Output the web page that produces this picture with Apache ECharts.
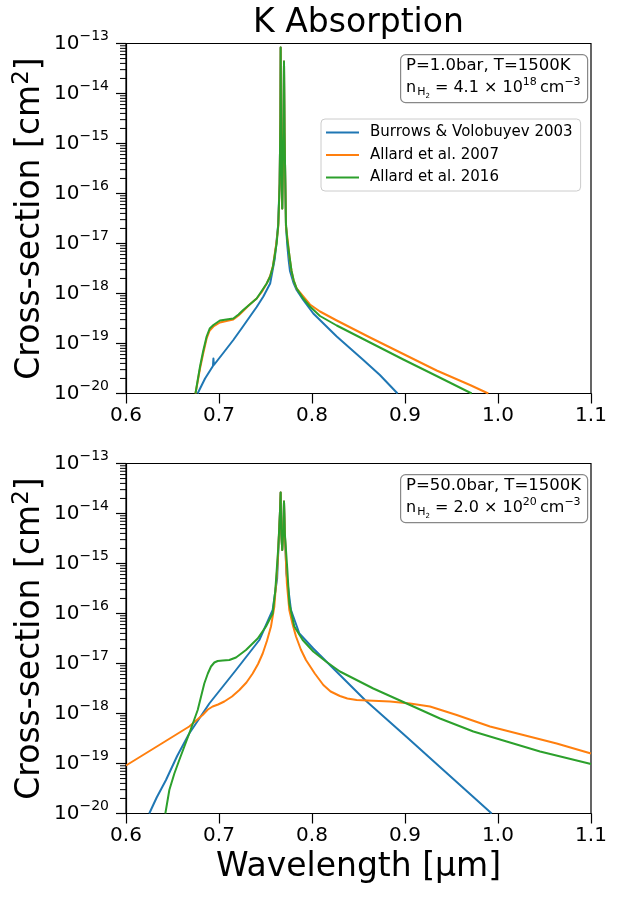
<!DOCTYPE html>
<html>
<head>
<meta charset="utf-8">
<title>K Absorption</title>
<script src="https://cdn.jsdelivr.net/npm/echarts/dist/echarts.min.js"></script>
<style>
    html, body { margin: 0; padding: 0; background: #fff; }
    #main { width: 618px; height: 899px; }
</style>
</head>
<body>
<div id="main"></div>
<script>
// wavelength in micron, cross-section stored as log10(cm^2)

// --- panel 1 : P = 1 bar ---
var topBurrowsWl  = [0.677, 0.681, 0.685, 0.6935, 0.694, 0.6945, 0.705, 0.7154, 0.725, 0.7333, 0.7405, 0.7477, 0.755, 0.760, 0.7635, 0.7652, 0.7660, 0.7663, 0.7668, 0.7680, 0.7692, 0.7699, 0.7705, 0.7720, 0.7735, 0.7750, 0.7763, 0.7800, 0.7835, 0.7906, 0.8014, 0.8266, 0.8552, 0.873, 0.892];
var topBurrowsLog = [-20, -19.85, -19.7, -19.45, -19.3, -19.43, -19.18, -18.93, -18.68, -18.46, -18.27, -18.06, -17.8, -17.3, -16.65, -15.8, -14.5, -13.08, -14.8, -16.3, -14.8, -13.36, -14.8, -16.65, -17.05, -17.35, -17.55, -17.78, -17.93, -18.13, -18.4, -18.86, -19.33, -19.63, -20];

var topAllard07Wl  = [0.6747, 0.6772, 0.6796, 0.683, 0.6867, 0.690, 0.694, 0.701, 0.708, 0.7154, 0.721, 0.726, 0.733, 0.7405, 0.746, 0.7513, 0.755, 0.758, 0.762, 0.7638, 0.7652, 0.7660, 0.7663, 0.7668, 0.7680, 0.7692, 0.7699, 0.7705, 0.7720, 0.7740, 0.776, 0.778, 0.780, 0.7835, 0.7906, 0.7978, 0.8086, 0.8266, 0.8624, 0.8982, 0.934, 0.9699, 0.9896];
var topAllard07Log = [-20, -19.75, -19.5, -19.2, -18.9, -18.74, -18.66, -18.58, -18.55, -18.52, -18.44, -18.35, -18.22, -18.1, -17.97, -17.8, -17.65, -17.45, -16.95, -16.65, -15.8, -14.5, -13.08, -14.8, -16.3, -14.8, -13.36, -14.8, -16.65, -16.95, -17.3, -17.55, -17.72, -17.9, -18.06, -18.22, -18.36, -18.54, -18.88, -19.21, -19.54, -19.83, -20];

var topAllard16Wl  = [0.6747, 0.6772, 0.6796, 0.683, 0.6867, 0.690, 0.694, 0.701, 0.708, 0.7154, 0.721, 0.726, 0.733, 0.7405, 0.7477, 0.7513, 0.755, 0.758, 0.762, 0.7638, 0.7652, 0.7660, 0.7663, 0.7668, 0.7680, 0.7692, 0.7699, 0.7705, 0.7720, 0.7734, 0.778, 0.7805, 0.7835, 0.7906, 0.7978, 0.8086, 0.8266, 0.8624, 0.8982, 0.934, 0.948, 0.9717];
var topAllard16Log = [-20, -19.72, -19.46, -19.15, -18.86, -18.7, -18.63, -18.54, -18.52, -18.5, -18.42, -18.33, -18.22, -18.1, -17.9, -17.8, -17.66, -17.46, -17.0, -16.6, -15.8, -14.5, -13.08, -14.8, -16.3, -14.8, -13.36, -14.8, -16.6, -16.93, -17.55, -17.75, -17.9, -18.1, -18.26, -18.45, -18.64, -18.98, -19.32, -19.65, -19.78, -20];

// --- panel 2 : P = 50 bar ---
var botBurrowsWl  = [0.625, 0.633, 0.643, 0.655, 0.668, 0.6896, 0.7183, 0.7434, 0.7577, 0.7625, 0.7655, 0.7663, 0.7670, 0.7680, 0.7692, 0.7699, 0.7708, 0.7725, 0.7774, 0.7864, 0.8014, 0.830, 0.857, 0.9018, 0.9376, 0.9735, 0.9932];
var botBurrowsLog = [-20, -19.68, -19.33, -18.85, -18.4, -17.8, -17.13, -16.53, -15.93, -15.3, -14.0, -13.58, -14.4, -14.73, -14.3, -13.76, -14.4, -15.2, -15.93, -16.4, -16.7, -17.23, -17.73, -18.47, -19.07, -19.67, -20];

var botAllard07Wl  = [0.6, 0.6358, 0.668, 0.6824, 0.688, 0.6932, 0.699, 0.7057, 0.714, 0.7219, 0.7295, 0.7362, 0.742, 0.747, 0.7515, 0.7559, 0.7595, 0.7630, 0.7655, 0.7663, 0.7670, 0.7680, 0.7692, 0.7699, 0.7708, 0.7730, 0.7756, 0.7792, 0.7828, 0.7880, 0.7935, 0.8030, 0.8122, 0.820, 0.830, 0.838, 0.848, 0.8839, 0.9054, 0.9269, 0.9556, 0.9914, 1.0272, 1.0631, 1.1];
var botAllard07Log = [-19.04, -18.63, -18.26, -18.03, -17.92, -17.86, -17.82, -17.76, -17.66, -17.53, -17.38, -17.2, -17.01, -16.8, -16.55, -16.26, -15.86, -15.0, -14.0, -13.58, -14.4, -14.73, -14.3, -13.76, -14.4, -15.4, -15.93, -16.22, -16.46, -16.72, -16.93, -17.2, -17.43, -17.56, -17.65, -17.7, -17.73, -17.76, -17.8, -17.86, -18.03, -18.26, -18.43, -18.6, -18.8];

var botAllard16Wl  = [0.6423, 0.6466, 0.652, 0.6573, 0.668, 0.6771, 0.6842, 0.688, 0.6914, 0.6950, 0.6986, 0.704, 0.7111, 0.7183, 0.729, 0.7416, 0.7505, 0.7577, 0.7605, 0.7638, 0.7655, 0.7663, 0.7670, 0.7680, 0.7692, 0.7699, 0.7708, 0.7734, 0.7756, 0.781, 0.79, 0.8014, 0.815, 0.830, 0.8659, 0.9018, 0.9376, 0.9735, 1.0093, 1.0452, 1.1];
var botAllard16Log = [-20, -19.53, -19.2, -18.93, -18.4, -17.93, -17.4, -17.2, -17.06, -16.98, -16.95, -16.94, -16.93, -16.88, -16.73, -16.5, -16.26, -16.0, -15.55, -14.66, -14.0, -13.58, -14.4, -14.73, -14.3, -13.76, -14.4, -15.1, -15.8, -16.26, -16.53, -16.76, -16.96, -17.16, -17.5, -17.8, -18.1, -18.36, -18.56, -18.76, -19.01];

var seriesNames = ['Burrows & Volobuyev 2003', 'Allard et al. 2007', 'Allard et al. 2016'];
var colors = ['#1f77b4', '#ff7f0e', '#2ca02c'];
var xTicks = [0.6, 0.7, 0.8, 0.9, 1.0, 1.1];
var yExponents = [-20, -19, -18, -17, -16, -15, -14, -13];
var minorMultipliers = [2, 3, 4, 5, 6, 7, 8, 9];
var panelNotes = [
    ['1.0', '4.1', '18'],
    ['50.0', '2.0', '20']
];

var FONT = 'DejaVu Sans';
var gridTops = [43.5, 463.5];
var gridLeft = 126, gridW = 465, gridH = 350;

function pairs(wl, lg) {
    var out = [];
    for (var i = 0; i < wl.length; i++) out.push([wl[i], Math.pow(10, lg[i])]);
    return out;
}

var chart = echarts.init(document.getElementById('main'));

var grids = [], xAxes = [], yAxes = [], series = [];
for (var g = 0; g < 2; g++) {
    grids.push({left: gridLeft, top: gridTops[g], width: gridW, height: gridH,
        show: true, borderColor: '#000', borderWidth: 1.2, backgroundColor: 'transparent'});
    xAxes.push({
        gridIndex: g, type: 'value', min: xTicks[0], max: xTicks[xTicks.length - 1], interval: 0.1,
        axisLine: {onZero: false, lineStyle: {color: '#000', width: 1.2}},
        axisTick: {length: 10, lineStyle: {color: '#000', width: 1.2}},
        axisLabel: {color: '#000', fontSize: 20, fontFamily: FONT, margin: 12,
            formatter: function (v) { return v.toFixed(1); }},
        splitLine: {show: false}
    });
    yAxes.push({
        gridIndex: g, type: 'log', logBase: 10,
        min: Math.pow(10, yExponents[0]), max: Math.pow(10, yExponents[yExponents.length - 1]), interval: 1,
        axisLine: {lineStyle: {color: '#000', width: 1.2}},
        axisTick: {length: 10, lineStyle: {color: '#000', width: 1.2}},
        axisLabel: {color: '#000', margin: 17, fontFamily: FONT,
            formatter: function (v) {
                var ex = Math.round(Math.log(v) / Math.LN10);
                return '{b|10}{s|' + (ex < 0 ? '\u2212' : '') + Math.abs(ex) + '}';
            },
            rich: {
                b: {fontSize: 20, fontFamily: FONT, color: '#000'},
                s: {fontSize: 14, fontFamily: FONT, color: '#000', padding: [0, 0, 14, 0]}
            }},
        splitLine: {show: false}
    });
}

var panelData = [
    [pairs(topBurrowsWl, topBurrowsLog), pairs(topAllard07Wl, topAllard07Log), pairs(topAllard16Wl, topAllard16Log)],
    [pairs(botBurrowsWl, botBurrowsLog), pairs(botAllard07Wl, botAllard07Log), pairs(botAllard16Wl, botAllard16Log)]
];
for (var g2 = 0; g2 < 2; g2++) {
    for (var s = 0; s < 3; s++) {
        series.push({
            name: seriesNames[s], type: 'line', xAxisIndex: g2, yAxisIndex: g2,
            data: panelData[g2][s], symbol: 'none', showSymbol: false,
            lineStyle: {color: colors[s], width: 2, join: 'round'}, itemStyle: {color: colors[s]},
            z: 3 + s
        });
    }
}

// annotation boxes (P, T, n_H2)
var graphics = [];
for (var k = 0; k < 2; k++) {
    var bx = 400, by = gridTops[k] + 10.5;
    graphics.push({type: 'rect', left: bx, top: by, shape: {width: 187, height: 48, r: 5},
        style: {fill: '#fff', stroke: '#888', lineWidth: 1.2}, z: 100});
    graphics.push({type: 'text', left: bx + 6, top: by + 3, z: 101, style: {
        text: '{t|P=' + panelNotes[k][0] + 'bar, T=1500K}\n{m|n}{h|H}{h2|2}{m| = ' + panelNotes[k][1] + ' \u00d7 10}{sup|' + panelNotes[k][2] + '}{m|\u2009cm}{sup|\u22123}',
        rich: {
            t: {fontSize: 16.5, fontFamily: FONT, fill: '#000', lineHeight: 22},
            m: {fontSize: 16, fontFamily: FONT, fill: '#000', lineHeight: 22},
            h: {fontSize: 11, fontFamily: FONT, fill: '#000', padding: [9, 0, 0, 1]},
            h2: {fontSize: 7, fontFamily: FONT, fill: '#000', padding: [16, 0, 0, 0]},
            sup: {fontSize: 11, fontFamily: FONT, fill: '#000', padding: [0, 0, 12, 0]}
        }
    }});
}
// title
graphics.push({type: 'text', x: gridLeft + gridW / 2, y: 23, style: {
    text: 'K Absorption', fontSize: 33, fontFamily: FONT, fill: '#000',
    align: 'center', verticalAlign: 'middle'}});
// y labels
for (var q = 0; q < 2; q++) {
    graphics.push({type: 'text', x: 30, y: gridTops[q] + gridH / 2, rotation: Math.PI / 2, style: {
        text: '{a|Cross-section [cm}{s|2}{a|]}', align: 'center', verticalAlign: 'middle',
        rich: {
            a: {fontSize: 33, fontFamily: FONT, fill: '#000'},
            s: {fontSize: 23, fontFamily: FONT, fill: '#000', padding: [0, 0, 16, 0]}
        }}});
}
// x label
graphics.push({type: 'text', x: gridLeft + gridW / 2, y: 867, style: {
    text: 'Wavelength [\u00b5m]', fontSize: 33, fontFamily: FONT, fill: '#000',
    align: 'center', verticalAlign: 'middle'}});

var option = {
    animation: false,
    backgroundColor: '#fff',
    grid: grids,
    xAxis: xAxes,
    yAxis: yAxes,
    legend: {
        data: seriesNames, orient: 'vertical', left: 321, top: 119,
        icon: 'path://M0,0L33,0L33,2L0,2Z',
        backgroundColor: '#fff', borderColor: '#ccc', borderWidth: 1, borderRadius: 4,
        padding: [6, 8, 6, 5], itemWidth: 33, itemHeight: 14, itemGap: 7.5,
        textStyle: {fontSize: 15, fontFamily: FONT, color: '#000', padding: [0, 0, 0, 6]}
    },
    graphic: graphics,
    series: series
};
chart.setOption(option);

// minor log ticks on the y axes, placed through the axis scale
var minorLines = [];
for (var gi = 0; gi < 2; gi++) {
    for (var e = 0; e < yExponents.length - 1; e++) {
        for (var m = 0; m < minorMultipliers.length; m++) {
            var p = chart.convertToPixel({gridIndex: gi}, [xTicks[0], minorMultipliers[m] * Math.pow(10, yExponents[e])]);
            minorLines.push({type: 'line', shape: {x1: p[0] - 6, y1: p[1], x2: p[0], y2: p[1]},
                style: {stroke: '#000', lineWidth: 1}, z: 50});
        }
    }
}
chart.setOption({graphic: graphics.concat(minorLines)});
</script>
</body>
</html>
